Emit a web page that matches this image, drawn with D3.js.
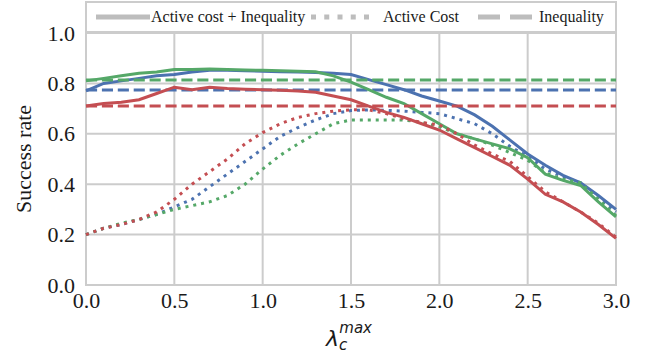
<!DOCTYPE html>
<html><head><meta charset="utf-8">
<script src="https://cdn.jsdelivr.net/npm/d3@7"></script>
<style>body{margin:0;background:#fff}svg{display:block}</style>
</head><body>
<svg id="c" width="654" height="356"></svg>
<script>
const lambdas = [0.0,0.1,0.2,0.3,0.4,0.5,0.6,0.7,0.8,0.9,1.0,1.1,1.2,1.3,1.4,1.5,1.6,1.7,1.8,1.9,2.0,2.1,2.2,2.3,2.4,2.5,2.6,2.7,2.8,2.9,3.0];
const xTicks = [0.0,0.5,1.0,1.5,2.0,2.5,3.0];
const yTicks = [0.0,0.2,0.4,0.6,0.8,1.0];
const colors = ["#4C72B0","#55A868","#C44E52"];
// Active cost + Inequality (solid)
const bothBlue  = [0.77,0.80,0.81,0.82,0.83,0.835,0.845,0.852,0.852,0.85,0.848,0.846,0.845,0.843,0.84,0.835,0.815,0.795,0.775,0.75,0.73,0.71,0.675,0.63,0.575,0.52,0.475,0.435,0.405,0.355,0.30];
const bothGreen = [0.81,0.82,0.83,0.84,0.845,0.855,0.855,0.857,0.855,0.853,0.852,0.85,0.848,0.846,0.83,0.805,0.775,0.745,0.72,0.68,0.64,0.60,0.58,0.56,0.54,0.505,0.44,0.415,0.395,0.33,0.27];
const bothRed   = [0.71,0.72,0.725,0.735,0.76,0.785,0.775,0.785,0.78,0.777,0.775,0.773,0.77,0.765,0.75,0.735,0.71,0.685,0.665,0.64,0.615,0.58,0.545,0.51,0.475,0.42,0.36,0.33,0.29,0.24,0.185];
// Active Cost (dotted)
const costBlue  = [0.20,0.225,0.24,0.26,0.28,0.31,0.34,0.39,0.44,0.49,0.54,0.59,0.625,0.655,0.68,0.692,0.695,0.693,0.69,0.685,0.68,0.66,0.64,0.60,0.55,0.51,0.46,0.43,0.405,0.35,0.29];
const costGreen = [0.20,0.225,0.245,0.26,0.28,0.30,0.315,0.33,0.355,0.40,0.46,0.515,0.56,0.60,0.64,0.655,0.655,0.655,0.655,0.645,0.628,0.60,0.58,0.555,0.525,0.495,0.445,0.42,0.405,0.34,0.275];
const costRed   = [0.20,0.225,0.24,0.26,0.29,0.34,0.40,0.45,0.50,0.56,0.605,0.64,0.665,0.68,0.69,0.695,0.695,0.68,0.66,0.645,0.635,0.60,0.555,0.52,0.49,0.43,0.37,0.33,0.29,0.245,0.19];
// Inequality (dashed, constant)
const ineqValues = [0.774,0.813,0.710];
const legendLabels = ["Active cost + Inequality","Active Cost","Inequality"];

const svg = d3.select("#c");
const x = d3.scaleLinear().domain([0,3]).range([86,616]);
const y = d3.scaleLinear().domain([0,1]).range([285,33]);
const grid = "#cccccc";
const serif = "'Liberation Serif','Times New Roman',serif";
const ink = "#1a1a1a";

// grid
svg.append("g").selectAll("line").data(xTicks).join("line")
  .attr("x1",d=>x(d)).attr("x2",d=>x(d)).attr("y1",2).attr("y2",285)
  .attr("stroke",grid).attr("stroke-width",2);
svg.append("g").selectAll("line").data(yTicks).join("line")
  .attr("x1",86).attr("x2",616).attr("y1",d=>y(d)).attr("y2",d=>y(d))
  .attr("stroke",grid).attr("stroke-width",2);
svg.append("rect").attr("x",86).attr("y",2).attr("width",530).attr("height",283)
  .attr("fill","none").attr("stroke",grid).attr("stroke-width",2);

const line = d3.line().x((d,i)=>x(lambdas[i])).y(d=>y(d));
const groups = [[bothBlue,costBlue],[bothGreen,costGreen],[bothRed,costRed]];
const plot = svg.append("g");
groups.forEach((g,k)=>{
  plot.append("path").attr("d",line(g[0])).attr("fill","none").attr("stroke",colors[k]).attr("stroke-width",3);
  plot.append("path").attr("d",line(g[1])).attr("fill","none").attr("stroke",colors[k]).attr("stroke-width",3).attr("stroke-dasharray","3,4.95");
  plot.append("line").attr("x1",x(0)).attr("x2",x(3)).attr("y1",y(ineqValues[k])).attr("y2",y(ineqValues[k]))
    .attr("stroke",colors[k]).attr("stroke-width",3).attr("stroke-dasharray","11.1,4.8");
});

// axes labels
const xa = svg.append("g").attr("transform","translate(0,285)")
  .call(d3.axisBottom(x).tickValues(xTicks).tickFormat(d3.format(".1f")).tickSize(0).tickPadding(7));
xa.select(".domain").remove();
xa.selectAll("text").attr("font-family",serif).attr("font-size",22).attr("fill",ink);
const ya = svg.append("g").attr("transform","translate(86,0)")
  .call(d3.axisLeft(y).tickValues(yTicks).tickFormat(d3.format(".1f")).tickSize(0).tickPadding(11));
ya.select(".domain").remove();
ya.selectAll("text").attr("font-family",serif).attr("font-size",22).attr("fill",ink);

svg.append("text").attr("transform","translate(31,159) rotate(-90)").attr("text-anchor","middle")
  .attr("font-family",serif).attr("font-size",22).attr("fill",ink).text("Success rate");

const xl = svg.append("text").attr("x",326).attr("y",346).attr("font-family","'DejaVu Sans',sans-serif").attr("fill",ink).attr("font-style","oblique");
xl.append("tspan").attr("font-size",22).text("λ");
xl.append("tspan").attr("font-size",15).attr("dy",4).text("c");
xl.append("tspan").attr("font-size",15).attr("dx",-8).attr("dy",-17).text("max");

// legend
const lg = svg.append("g");
lg.append("rect").attr("x",86).attr("y",2).attr("width",530).attr("height",30).attr("fill","#fff").attr("stroke",grid).attr("stroke-width",2);
const lc = "#bdbdbd";
const ly = 17;
lg.append("line").attr("x1",96).attr("x2",150).attr("y1",ly).attr("y2",ly).attr("stroke",lc).attr("stroke-width",5);
lg.append("line").attr("x1",311).attr("x2",370).attr("y1",ly).attr("y2",ly).attr("stroke",lc).attr("stroke-width",5).attr("stroke-dasharray","5,8.25");
lg.append("line").attr("x1",478).attr("x2",532).attr("y1",ly).attr("y2",ly).attr("stroke",lc).attr("stroke-width",5).attr("stroke-dasharray","22,10");
const lxs = [151,383,539];
legendLabels.forEach((t,i)=>{
  lg.append("text").attr("x",lxs[i]).attr("y",22).attr("font-family",serif).attr("font-size",16).attr("fill",ink).text(t);
});
</script>
</body></html>
